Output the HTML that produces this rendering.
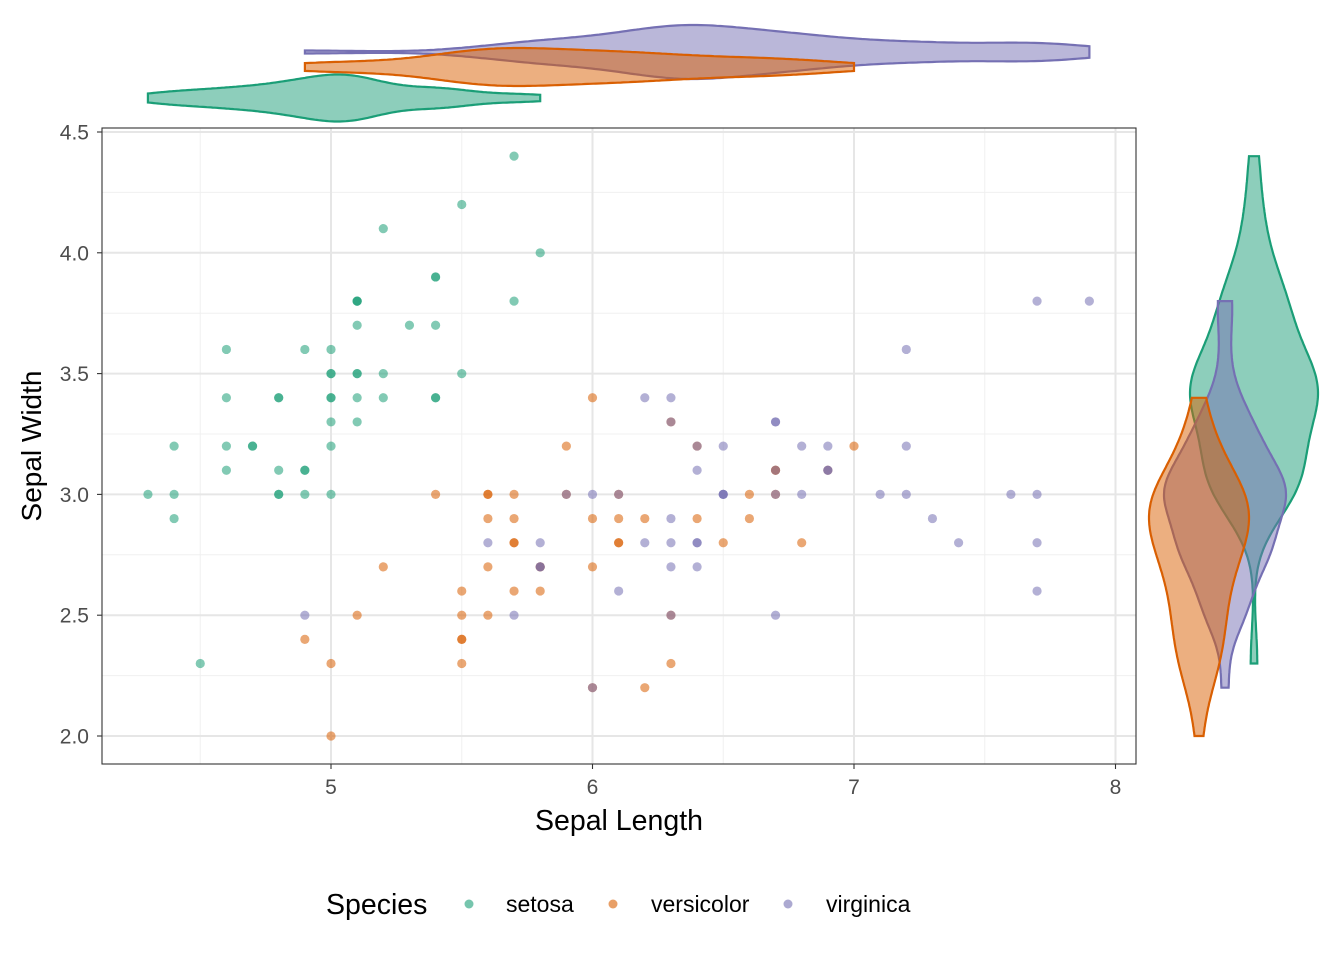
<!DOCTYPE html>
<html><head><meta charset="utf-8"><style>
body{margin:0;background:#fff;}
svg{display:block;font-family:"Liberation Sans",Arial,sans-serif;}
</style></head><body>
<svg id="chart" width="1344" height="960" viewBox="0 0 1344 960">
<g id="grid"></g>
<g id="violins"></g>
<g id="points"></g>
<rect x="102" y="128" width="1034" height="636" fill="none" stroke="#333" stroke-width="1.1"/>
<g id="axes"></g>
<text x="619" y="830" font-size="28.5" text-anchor="middle" fill="#000">Sepal Length</text>
<text transform="translate(41,446) rotate(-90)" font-size="28" text-anchor="middle" fill="#000">Sepal Width</text>
<g>
<text x="326" y="914" font-size="28.5">Species</text>
<g><circle cx="469" cy="904" r="4.5" fill="#1B9E77" fill-opacity="0.6"/><text x="506" y="912" font-size="23">setosa</text></g>
<g><circle cx="613" cy="904" r="4.5" fill="#D95F02" fill-opacity="0.6"/><text x="651" y="912" font-size="23">versicolor</text></g>
<g><circle cx="788" cy="904" r="4.5" fill="#7570B3" fill-opacity="0.6"/><text x="826" y="912" font-size="23">virginica</text></g>
</g>
</svg>
<script>
const species=["setosa","versicolor","virginica"];
const colors=["#1B9E77","#D95F02","#7570B3"];
const setosaSL=[5.1,4.9,4.7,4.6,5.0,5.4,4.6,5.0,4.4,4.9,5.4,4.8,4.8,4.3,5.8,5.7,5.4,5.1,5.7,5.1,5.4,5.1,4.6,5.1,4.8,5.0,5.0,5.2,5.2,4.7,4.8,5.4,5.2,5.5,4.9,5.0,5.5,4.9,4.4,5.1,5.0,4.5,4.4,5.0,5.1,4.8,5.1,4.6,5.3,5.0];
const setosaSW=[3.5,3.0,3.2,3.1,3.6,3.9,3.4,3.4,2.9,3.1,3.7,3.4,3.0,3.0,4.0,4.4,3.9,3.5,3.8,3.8,3.4,3.7,3.6,3.3,3.4,3.0,3.4,3.5,3.4,3.2,3.1,3.4,4.1,4.2,3.1,3.2,3.5,3.6,3.0,3.4,3.5,2.3,3.2,3.5,3.8,3.0,3.8,3.2,3.7,3.3];
const versicolorSL=[7.0,6.4,6.9,5.5,6.5,5.7,6.3,4.9,6.6,5.2,5.0,5.9,6.0,6.1,5.6,6.7,5.6,5.8,6.2,5.6,5.9,6.1,6.3,6.1,6.4,6.6,6.8,6.7,6.0,5.7,5.5,5.5,5.8,6.0,5.4,6.0,6.7,6.3,5.6,5.5,5.5,6.1,5.8,5.0,5.6,5.7,5.7,6.2,5.1,5.7];
const versicolorSW=[3.2,3.2,3.1,2.3,2.8,2.8,3.3,2.4,2.9,2.7,2.0,3.0,2.2,2.9,2.9,3.1,3.0,2.7,2.2,2.5,3.2,2.8,2.5,2.8,2.9,3.0,2.8,3.0,2.9,2.6,2.4,2.4,2.7,2.7,3.0,3.4,3.1,2.3,3.0,2.5,2.6,3.0,2.6,2.3,2.7,3.0,2.9,2.9,2.5,2.8];
const virginicaSL=[6.3,5.8,7.1,6.3,6.5,7.6,4.9,7.3,6.7,7.2,6.5,6.4,6.8,5.7,5.8,6.4,6.5,7.7,7.7,6.0,6.9,5.6,7.7,6.3,6.7,7.2,6.2,6.1,6.4,7.2,7.4,7.9,6.4,6.3,6.1,7.7,6.3,6.4,6.0,6.9,6.7,6.9,5.8,6.8,6.7,6.7,6.3,6.5,6.2,5.9];
const virginicaSW=[3.3,2.7,3.0,2.9,3.0,3.0,2.5,2.9,2.5,3.6,3.2,2.7,3.0,2.5,2.8,3.2,3.0,3.8,2.6,2.2,3.2,2.8,2.8,2.7,3.3,3.2,2.8,3.0,2.8,3.0,2.8,3.8,2.8,2.8,2.6,3.0,3.4,3.1,3.0,3.1,3.1,3.1,2.7,3.2,3.3,3.0,2.5,3.0,3.4,3.0];
const xTicks=[5,6,7,8];
const yTicks=[2.0,2.5,3.0,3.5,4.0,4.5];
const yTickLabels=["2.0","2.5","3.0","3.5","4.0","4.5"];

const SL=[setosaSL,versicolorSL,virginicaSL], SW=[setosaSW,versicolorSW,virginicaSW];
const X=v=>331+(v-5)*261.5;
const Y=v=>736-(v-2)*241.6;
const NS="http://www.w3.org/2000/svg";
function mk(tag,attrs,parent){const e=document.createElementNS(NS,tag);for(const k in attrs)e.setAttribute(k,attrs[k]);parent.appendChild(e);return e;}
const grid=document.getElementById('grid'),axes=document.getElementById('axes');
[4.5,5.5,6.5,7.5].forEach(v=>{const l=mk('line',{x1:X(v),x2:X(v),y1:128,y2:764,stroke:'#F0F0F0','stroke-width':1},grid);});
[2.25,2.75,3.25,3.75,4.25].forEach(v=>{const l=mk('line',{x1:102,x2:1136,y1:Y(v),y2:Y(v),stroke:'#F0F0F0','stroke-width':1},grid);});
xTicks.forEach(v=>{const l=mk('line',{x1:X(v),x2:X(v),y1:128,y2:764,stroke:'#E6E6E6','stroke-width':2},grid);
 const t=mk('line',{x1:X(v),x2:X(v),y1:764,y2:769,stroke:'#333','stroke-width':1.1},axes);
 const tx=mk('text',{x:X(v),y:794,'font-size':21,'text-anchor':'middle',fill:'#4D4D4D'},axes);tx.textContent=v;});
yTicks.forEach((v,i)=>{const l=mk('line',{x1:102,x2:1136,y1:Y(v),y2:Y(v),stroke:'#E6E6E6','stroke-width':2},grid);
 const t=mk('line',{x1:97,x2:102,y1:Y(v),y2:Y(v),stroke:'#333','stroke-width':1.1},axes);
 const tx=mk('text',{x:89,y:Y(v)+7.5,'font-size':21,'text-anchor':'end',fill:'#4D4D4D'},axes);tx.textContent=yTickLabels[i];});

function sd(a){const m=a.reduce((s,v)=>s+v,0)/a.length;return Math.sqrt(a.reduce((s,v)=>s+(v-m)*(v-m),0)/(a.length-1));}
function q(a,p){const s=[...a].sort((x,y)=>x-y);const h=(s.length-1)*p,l=Math.floor(h);return s[l]+(h-l)*((s[l+1]??s[l])-s[l]);}
function kde(a){const iqr=q(a,0.75)-q(a,0.25);const bw=0.9*Math.min(sd(a),iqr/1.34)*Math.pow(a.length,-0.2);
 const lo=Math.min(...a),hi=Math.max(...a),pts=[];for(let i=0;i<=200;i++){const x=lo+(hi-lo)*i/200;let d=0;a.forEach(v=>{const z=(x-v)/bw;d+=Math.exp(-0.5*z*z);});pts.push([x,d/(a.length*bw*Math.sqrt(2*Math.PI))]);}return pts;}
const vg=document.getElementById('violins');
const topCenter=[98,67,52],topHalf=[23.5,19,27];
const rightCenter=[1254,1199,1225],rightHalf=[64,50,61];
[0,2,1].forEach(s=>{
 let d=kde(SL[s]);let mx=Math.max(...d.map(p=>p[1]));
 let up=d.map(p=>[X(p[0]),topCenter[s]-p[1]/mx*topHalf[s]]),dn=d.map(p=>[X(p[0]),topCenter[s]+p[1]/mx*topHalf[s]]).reverse();
 let path='M'+up.concat(dn).map(p=>p[0].toFixed(1)+','+p[1].toFixed(1)).join('L')+'Z';
 const e=mk('path',{d:path,fill:colors[s],'fill-opacity':0.5,stroke:colors[s],'stroke-width':2.2},vg);
 
});
[0,2,1].forEach(s=>{
 let d=kde(SW[s]);let mx=Math.max(...d.map(p=>p[1]));
 let l=d.map(p=>[rightCenter[s]-p[1]/mx*rightHalf[s],Y(p[0])]),r=d.map(p=>[rightCenter[s]+p[1]/mx*rightHalf[s],Y(p[0])]).reverse();
 let path='M'+l.concat(r).map(p=>p[0].toFixed(1)+','+p[1].toFixed(1)).join('L')+'Z';
 const e=mk('path',{d:path,fill:colors[s],'fill-opacity':0.5,stroke:colors[s],'stroke-width':2.2},vg);
 
});
const pg=document.getElementById('points');
[0,1,2].forEach(s=>{SL[s].forEach((v,i)=>{
 const c=mk('circle',{cx:X(v),cy:Y(SW[s][i]),r:4.6,fill:colors[s],'fill-opacity':0.55},pg);
 
});});
</script>
</body></html>
